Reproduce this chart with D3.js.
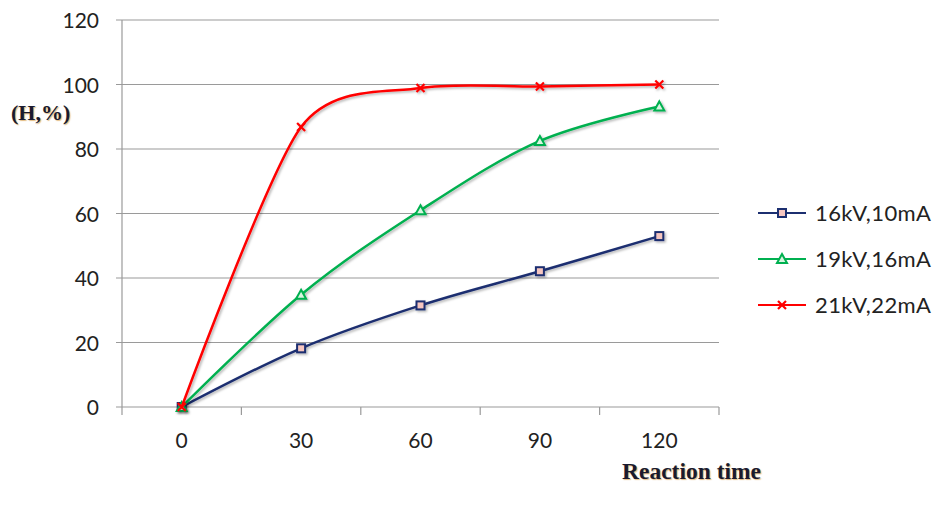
<!DOCTYPE html>
<html><head><meta charset="utf-8">
<script src="https://cdn.jsdelivr.net/npm/d3@7"></script>
<style>body{margin:0;background:#fff}</style>
</head><body>
<svg id="c" width="945" height="519"></svg>
<script>
const categories = [0, 30, 60, 90, 120];
const s16 = [0, 18.2, 31.5, 42.1, 53];
const s19 = [0, 34.8, 61, 82.5, 93.2];
const s21 = [0, 86.8, 98.9, 99.4, 100];
const yTicks = [0, 20, 40, 60, 80, 100, 120];
const seriesNames = ["16kV,10mA", "19kV,16mA", "21kV,22mA"];

const svg = d3.select("#c");
const L = 122, R = 719, T = 20, B = 407;
const x = d3.scaleBand().domain(categories).range([L, R]);
const y = d3.scaleLinear().domain([0, 120]).range([B, T]);
const cx = d => x(d) + x.bandwidth() / 2;
const grid = "#9a9a9a";
const font = "Lato, 'Open Sans', sans-serif";
const serif = "'Liberation Serif', 'Times New Roman', serif";

const defs = svg.append("defs");
const f = defs.append("filter").attr("id", "sh").attr("x", "-20%").attr("y", "-20%").attr("width", "140%").attr("height", "140%");
f.append("feDropShadow").attr("dx", 1.5).attr("dy", 1.5).attr("stdDeviation", 1.2).attr("flood-color", "#000").attr("flood-opacity", 0.3);

// gridlines
svg.append("g").selectAll("line").data(yTicks).join("line")
  .attr("x1", L - 6).attr("x2", R).attr("y1", d => y(d)).attr("y2", d => y(d))
  .attr("stroke", grid).attr("stroke-width", 1.2);
// y axis line
svg.append("line").attr("x1", L).attr("x2", L).attr("y1", T).attr("y2", B).attr("stroke", grid).attr("stroke-width", 1.2);
// x ticks at band boundaries
const bounds = categories.map(d => x(d)).concat([R]);
svg.append("g").selectAll("line").data(bounds).join("line")
  .attr("x1", d => d).attr("x2", d => d).attr("y1", B).attr("y2", B + 8)
  .attr("stroke", grid).attr("stroke-width", 1.2);
// y labels
svg.append("g").selectAll("text").data(yTicks).join("text")
  .attr("x", 99).attr("y", d => y(d) + 8).attr("text-anchor", "end")
  .attr("font-family", font).attr("font-size", 21).attr("fill", "#222").text(d => d);
// x labels
svg.append("g").selectAll("text").data(categories).join("text")
  .attr("x", d => cx(d)).attr("y", 448).attr("text-anchor", "middle")
  .attr("font-family", font).attr("font-size", 21).attr("fill", "#222").text(d => d);

// axis titles
svg.append("text").attr("x", 11).attr("y", 120).attr("font-family", serif)
  .attr("font-weight", "bold").attr("font-size", 22).attr("fill", "#1a1a2e")
  .attr("style", "text-shadow:1px 1px 1px rgba(200,120,0,0.5)").text("(H,%)");
svg.append("text").attr("x", 622).attr("y", 479).attr("font-family", serif)
  .attr("font-weight", "bold").attr("font-size", 23.5).attr("fill", "#1a1a2e")
  .attr("style", "text-shadow:1px 1px 1px rgba(200,120,0,0.5)").text("Reaction time");

const series = [
  {name: seriesNames[0], vals: s16, color: "#1c2f70", marker: "square", t: 0},
  {name: seriesNames[1], vals: s19, color: "#00b050", marker: "triangle", t: 0},
  {name: seriesNames[2], vals: s21, color: "#ff0000", marker: "x", t: 0.2}
];

function drawMarker(g, type, color, px, py) {
  if (type === "square") {
    g.append("rect").attr("x", px - 4).attr("y", py - 4).attr("width", 8).attr("height", 8)
      .attr("fill", "#f6c6c0").attr("stroke", color).attr("stroke-width", 2);
  } else if (type === "triangle") {
    g.append("path").attr("d", `M${px},${py-5}L${px+5},${py+4}L${px-5},${py+4}Z`)
      .attr("fill", "#d8f5e0").attr("stroke", color).attr("stroke-width", 2);
  } else {
    g.append("path").attr("d", `M${px-4},${py-4}L${px+4},${py+4}M${px+4},${py-4}L${px-4},${py+4}`)
      .attr("stroke", color).attr("stroke-width", 2.2);
  }
}

series.forEach(s => {
  const line = d3.line().x((d, i) => cx(categories[i])).y(d => y(d)).curve(d3.curveCardinal.tension(s.t));
  const g = svg.append("g").attr("filter", "url(#sh)");
  g.append("path").datum(s.vals).attr("d", line).attr("fill", "none")
    .attr("stroke", s.color).attr("stroke-width", 2.5);
  s.vals.forEach((v, i) => drawMarker(g, s.marker, s.color, cx(categories[i]), y(v)));
});

// legend
const ly = [213, 259, 305];
series.forEach((s, i) => {
  const g = svg.append("g");
  g.append("line").attr("x1", 758).attr("x2", 806).attr("y1", ly[i]).attr("y2", ly[i]).attr("stroke", s.color).attr("stroke-width", 1.8);
  drawMarker(g, s.marker, s.color, 782, ly[i]);
  g.append("text").attr("x", 815).attr("y", ly[i] + 8).attr("font-family", font).attr("font-size", 22)
    .attr("letter-spacing", 0.4).attr("fill", "#222").text(s.name);
});
</script>
</body></html>
